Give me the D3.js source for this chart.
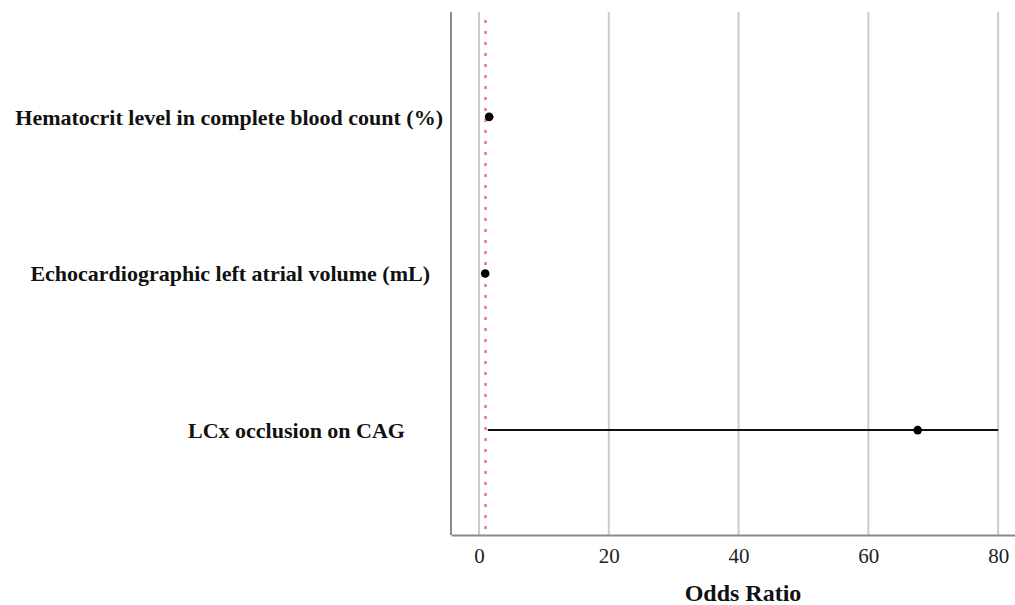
<!DOCTYPE html>
<html><head><meta charset="utf-8">
<script src="https://cdn.jsdelivr.net/npm/d3@7"></script>
<style>body{margin:0;background:#fff}</style>
</head><body>
<svg id="c" width="1015" height="605"></svg>
<script>
const categories = ["Hematocrit level in complete blood count (%)", "Echocardiographic left atrial volume (mL)", "LCx occlusion on CAG"];
const oddsRatio = [1.55, 0.95, 67.6];
const ciLower = [1.0, 0.9, 1.35];
const ciUpper = [2.2, 1.05, 80];
const xTicks = [0, 20, 40, 60, 80];
const refValue = 1;

(function () {
const svg = d3.select("#c");
const pL = 451, pR = 1015, pT = 12, pB = 535;
const serif = "'Liberation Serif', 'Times New Roman', serif";
const x = d3.scaleLinear().domain([-4.32, 82.6]).range([pL, pR]);
const y = d3.scalePoint().domain(categories).range([pT, pB]).padding(0.67);

// gridlines
svg.append("g").selectAll("line").data(xTicks).join("line")
  .attr("x1", d => x(d)).attr("x2", d => x(d)).attr("y1", pT).attr("y2", pB)
  .attr("stroke", "#cbcbcb").attr("stroke-width", 2);

// axes lines
svg.append("line").attr("x1", pL).attr("x2", pL).attr("y1", pT).attr("y2", pB)
  .attr("stroke", "#8a8a8a").attr("stroke-width", 2);
const xAxis = svg.append("g").attr("transform", `translate(0,${pB})`)
  .call(d3.axisBottom(x).tickValues(xTicks).tickSize(0).tickPadding(13));
xAxis.attr("font-family", null).attr("font-size", null);
xAxis.select(".domain").attr("stroke", "#8a8a8a").attr("stroke-width", 2);
xAxis.selectAll(".tick text")
  .style("font-family", serif).style("font-size", "21px").style("fill", "#222");

// reference line
svg.append("line").attr("x1", x(refValue)).attr("x2", x(refValue)).attr("y1", pT + 8).attr("y2", pB)
  .attr("stroke", "#e87878").attr("stroke-width", 2.5).attr("stroke-dasharray", "3,8");

// CI lines
svg.append("g").selectAll("line").data(categories).join("line")
  .attr("x1", (d, i) => x(ciLower[i])).attr("x2", (d, i) => x(ciUpper[i]))
  .attr("y1", d => y(d)).attr("y2", d => y(d))
  .attr("stroke", "#111").attr("stroke-width", 2);

// points
svg.append("g").selectAll("circle").data(categories).join("circle")
  .attr("cx", (d, i) => x(oddsRatio[i])).attr("cy", d => y(d)).attr("r", 4.3)
  .attr("fill", "#000");

// category labels
const labelGap = [8, 21, 46];
svg.append("g").selectAll("text").data(categories).join("text")
  .attr("x", (d, i) => pL - labelGap[i]).attr("y", d => y(d)).attr("dy", "0.35em")
  .attr("text-anchor", "end")
  .style("font-family", serif)
  .style("font-weight", "bold").style("font-size", "22px").style("fill", "#111")
  .text(d => d);

// axis title
svg.append("text").attr("x", 743).attr("y", 601).attr("text-anchor", "middle")
  .style("font-family", serif)
  .style("font-weight", "bold").style("font-size", "24px").style("fill", "#111")
  .text("Odds Ratio");
})();
</script>
</body></html>
